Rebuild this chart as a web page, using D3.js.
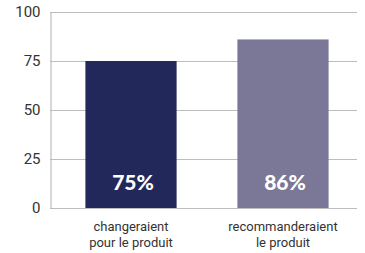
<!DOCTYPE html>
<html>
<head>
<meta charset="utf-8">
<script src="https://cdn.jsdelivr.net/npm/d3@7"></script>
<style>
  body { margin: 0; background: #fff; }
  svg { display: block; }
</style>
</head>
<body>
<svg id="chart" width="365" height="253"></svg>
<script>
// values
const categories = [['changeraient', 'pour le produit'], ['recommanderaient', 'le produit']];
const values = [75, 86];
const colors = ['#22285a', '#7b7797'];
const yTicks = [0, 25, 50, 75, 100];

const svg = d3.select('#chart');
const plotLeft = 50, plotRight = 357, plotTop = 12, plotBottom = 208;

let y = d3.scaleLinear().domain([0, 100]).range([plotBottom, plotTop]);
let x = d3.scaleBand().domain(d3.range(values.length)).range([55, 359])
  .paddingInner(0.4).paddingOuter(0.2);

/// gridlines
svg.append('g').selectAll('line')
  .data(yTicks)
  .enter().append('line')
  .attr('x1', plotLeft).attr('x2', plotRight)
  .attr('y1', d => Math.round(y(d)) + 0.5)
  .attr('y2', d => Math.round(y(d)) + 0.5)
  .attr('stroke', '#bdbdbd')
  .attr('stroke-width', 1.2);

/// y axis, only labels + vertical line
let yAxis = svg.append('g')
  .attr('transform', 'translate(' + (plotLeft + 0.5) + ',0)')
  .call(d3.axisLeft(y).tickValues(yTicks).tickSize(0).tickPadding(10));
yAxis.select('.domain').attr('stroke', '#bdbdbd').attr('stroke-width', 1.2);
yAxis.selectAll('text')
  .attr('font-family', 'Roboto, sans-serif')
  .attr('font-size', 15)
  .attr('fill', '#333');

/// bars
svg.append('g').selectAll('rect')
  .data(values)
  .enter().append('rect')
  .attr('x', (d, i) => x(i))
  .attr('y', d => y(d))
  .attr('width', x.bandwidth())
  .attr('height', d => y(0) - y(d))
  .attr('fill', (d, i) => colors[i]);

/// value labels inside bars
svg.append('g').selectAll('text')
  .data(values)
  .enter().append('text')
  .attr('x', (d, i) => x(i) + x.bandwidth() / 2 + 2)
  .attr('y', 190)
  .attr('text-anchor', 'middle')
  .attr('font-family', 'Lato, sans-serif')
  .attr('font-weight', 900)
  .attr('font-size', 21)
  .attr('fill', '#fff')
  .text(d => d + '%');

/// category labels
let cats = svg.append('g').selectAll('text')
  .data(categories)
  .enter().append('text')
  .attr('text-anchor', 'middle')
  .attr('font-family', 'Roboto, sans-serif')
  .attr('font-size', 13)
  .attr('fill', '#333');
cats.selectAll('tspan')
  .data((d, i) => d.map(t => ({t: t, i: i})))
  .enter().append('tspan')
  .attr('x', d => x(d.i) + x.bandwidth() / 2)
  .attr('y', (d, j) => 231 + j * 16)
  .text(d => d.t);
</script>
</body>
</html>
